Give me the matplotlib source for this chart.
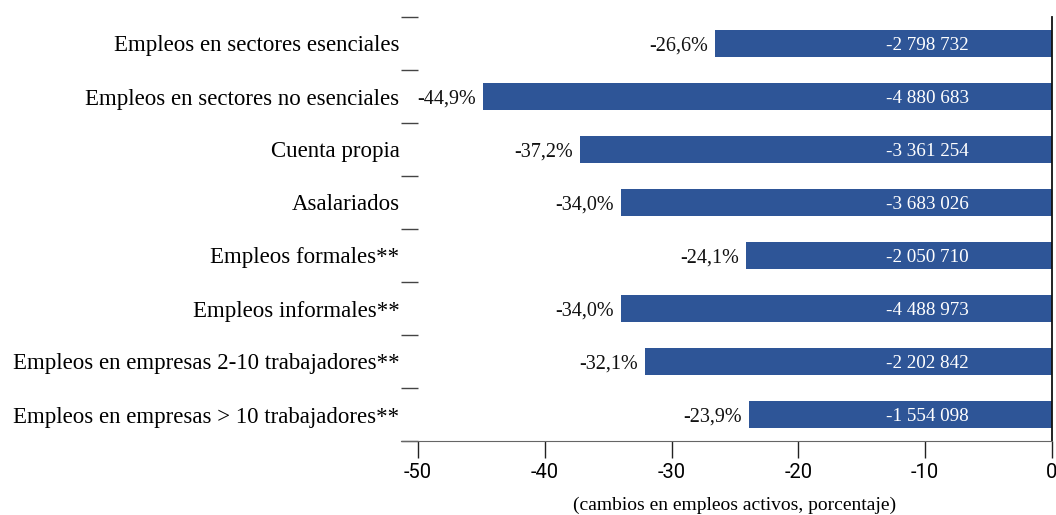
import numpy as np
import matplotlib.pyplot as plt

categorias = [
    'Empleos en sectores esenciales',
    'Empleos en sectores no esenciales',
    'Cuenta propia',
    'Asalariados',
    'Empleos formales**',
    'Empleos informales**',
    'Empleos en empresas 2-10 trabajadores**',
    'Empleos en empresas > 10 trabajadores**',
]
cambio_pct = [-26.6, -44.9, -37.2, -34.0, -24.1, -34.0, -32.1, -23.9]
cambio_abs = [-2798732, -4880683, -3361254, -3683026, -2050710, -4488973, -2202842, -1554098]

azul = '#2e5597'
serif = ['Liberation Serif', 'DejaVu Serif']


def miles(v):
    return f'{v:,}'.replace(',', ' ')


fig = plt.figure(figsize=(10.56, 5.15), dpi=100)
ax = fig.add_axes([401 / 1056, 1 - 441 / 515, 651 / 1056, 424 / 515])

y = np.arange(len(categorias))
ax.barh(y, cambio_pct, height=0.5, color=azul, zorder=2)

for yi, p, n in zip(y, cambio_pct, cambio_abs):
    ax.text(p - 0.55, yi, f'{p:.1f}%'.replace('.', ','), ha='right', va='center_baseline',
            fontsize=14.5, family=serif, color='#111111')
    ax.text(-9.8, yi, miles(n), ha='center', va='center_baseline',
            fontsize=13.8, family=serif, color='white')

ax.set_xlim(-51.34, 0)
ax.set_ylim(len(categorias) - 0.5, -0.5)

ax.set_xticks(np.arange(-50, 1, 10))
ax.set_xticklabels([str(t) for t in range(-50, 1, 10)], family='Roboto', fontsize=14.5)
ax.tick_params(axis='x', length=12, width=1, color='#222222', pad=4)

ax.set_yticks(y)
ax.set_yticklabels(categorias, family=serif, fontsize=16.5)
ax.set_yticks(np.arange(-0.5, len(categorias)), minor=True)
ax.tick_params(axis='y', which='major', length=0, pad=1)
ax.tick_params(axis='y', which='minor', direction='in', length=12, width=1, color='#444444')

# título del eje centrado en -25, no en el centro del área
ax.text(-25, -0.151, '(cambios en empleos activos, porcentaje)', transform=ax.get_xaxis_transform(),
        ha='center', va='center', family=serif, fontsize=14.0)

for s in ('top', 'left'):
    ax.spines[s].set_visible(False)
ax.spines['bottom'].set_color('#666666')
ax.spines['right'].set_color('#111111')
ax.spines['right'].set_linewidth(1.3)

fig.savefig('out.png', dpi=100)
